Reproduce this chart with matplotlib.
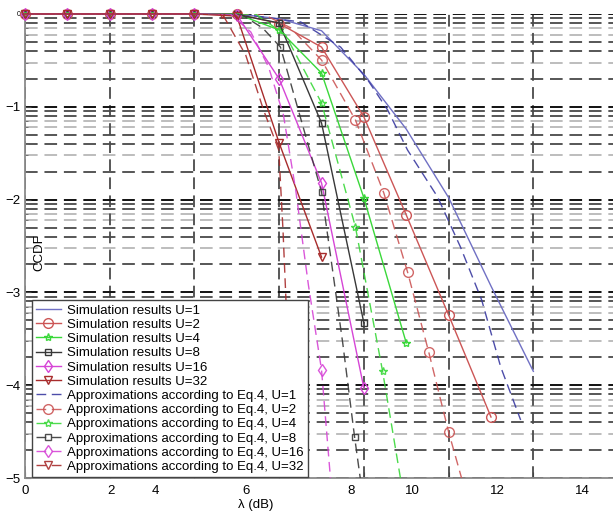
import numpy as np
import matplotlib
matplotlib.use('Agg')
import matplotlib.pyplot as plt
from matplotlib.ticker import LogLocator, FixedLocator, NullFormatter, FixedFormatter

plt.rcParams['font.family'] = ['Liberation Sans', 'DejaVu Sans']

# ---------------- data ----------------
U_values = [1, 2, 4, 8, 16, 32]

# simulation results, sampled at integer dB
sim_x_u1 = [0, 1, 2, 3, 4, 5, 6, 7, 8, 9, 10, 11, 12]
sim_u1 = [1, 1, 1, 1, 1, 1, 0.89, 0.66, 0.224, 0.0575, 0.0105, 0.00117, 0.000141]
sim_x_u2 = [0, 1, 2, 3, 4, 5, 6, 7, 8, 9, 10, 11]
sim_u2 = [1, 1, 1, 1, 1, 1, 0.79, 0.44, 0.0776, 0.00682, 0.00057, 4.54e-5]
sim_x_u4 = [0, 1, 2, 3, 4, 5, 6, 7, 8, 9]
sim_u4 = [1, 1, 1, 1, 1, 1, 0.673, 0.231, 0.0104, 2.85e-4]
sim_x_u8 = [0, 1, 2, 3, 4, 5, 6, 7, 8]
sim_u8 = [1, 1, 1, 1, 1, 0.99, 0.80, 0.0668, 4.68e-4]
sim_x_u16 = [0, 1, 2, 3, 4, 5, 6, 7, 8]
sim_u16 = [1, 1, 1, 1, 1, 0.98, 0.20, 0.0151, 9.3e-5]
sim_x_u32 = [0, 1, 2, 3, 4, 5, 6, 7]
sim_u32 = [1, 1, 1, 1, 1, 0.95, 0.0407, 0.0024]

# approximations according to Eq.4 (traced points)
apx_x_u1 = [0, 5.09, 6.51, 7.45, 8.09, 8.56, 9.03, 9.74, 10.28, 10.78, 11.23, 11.70]
apx_u1 = [1, 1, 0.82, 0.44, 0.195, 0.0925, 0.0342, 0.01067, 0.00308, 0.000828, 0.000157, 4.22e-5]
apx_x_u2 = [0, 5.61, 6.27, 7.0, 7.80, 8.47, 9.03, 9.53, 10.0, 10.33]
apx_u2 = [1, 1, 0.71, 0.319, 0.0721, 0.01178, 0.00166, 2.28e-4, 3.13e-5, 9.1e-6]
apx_x_u4 = [0, 5.44, 6.15, 7.0, 7.80, 8.44, 8.87]
apx_u4 = [1, 1, 0.594, 0.11, 0.00507, 1.42e-4, 9.5e-6]
apx_x_u8 = [0, 5.09, 5.61, 6.03, 7.0, 7.26, 7.5, 7.78, 7.92]
apx_u8 = [1, 1, 0.706, 0.44, 0.0121, 0.00174, 2.85e-4, 2.77e-5, 9.5e-6]
apx_x_u16 = [0, 4.85, 5.33, 5.75, 6.1, 6.39, 6.69, 7.0, 7.21]
apx_u16 = [1, 1, 0.64, 0.268, 0.0817, 0.01268, 0.0012, 1.46e-4, 1.0e-5]
apx_x_u32 = [0, 4.66, 5.21, 5.63, 5.99, 6.09, 6.18, 6.32, 6.51]
apx_u32 = [1, 1, 0.361, 0.0925, 0.0342, 0.0047, 5.05e-4, 6.93e-5, 1.0e-5]

# indices of traced points that carry a marker on the approximation curves
apx_marks_u1 = []
apx_marks_u2 = [3, 4, 5, 6, 7, 8]
apx_marks_u4 = [3, 4, 5]
apx_marks_u8 = [3, 4, 7]
apx_marks_u16 = [7]
apx_marks_u32 = [1]

x_tick_labels = ['0', '2', '4', '6', '8', '10', '12', '14']
x_tick_label_pos = [0.01, 2.02, 3.08, 5.21, 7.69, 9.15, 11.16, 13.16]
x_grid = [0, 2, 4, 6, 8, 10, 12]
y_tick_labels = ['\u22125', '\u22124', '\u22123', '\u22122', '\u22121', '0']

# ---------------- styling ----------------
sim_colors = ['#7070c4', '#cc5656', '#3ad83a', '#383838', '#d645d6', '#a82c2c']
apx_colors = ['#3a3aa0', '#cc5656', '#3ad83a', '#383838', '#d645d6', '#a82c2c']
markers = [None, 'o', '*', 's', 'd', 'v']
msizes = [0, 7, 6, 5, 6.5, 6]

fig = plt.figure(figsize=(6.13, 5.14), dpi=100)
ax = fig.add_axes([25 / 613, 36 / 514, 588 / 613, 464 / 514])
ax.set_yscale('log')
ax.set_xlim(0, 13.88)
ax.set_ylim(1e-5, 1)

# ticks
ax.yaxis.set_major_locator(FixedLocator([1e-5, 1e-4, 1e-3, 1e-2, 1e-1, 1]))
ax.yaxis.set_major_formatter(FixedFormatter(y_tick_labels))
ax.yaxis.set_minor_locator(LogLocator(base=10, subs=np.arange(2, 10)))
ax.yaxis.set_minor_formatter(NullFormatter())
ax.set_xticks(x_grid)
ax.set_xticklabels([''] * len(x_grid))
ax.set_xticks(x_tick_label_pos, minor=True)
ax.set_xticklabels(x_tick_labels, minor=True)
ax.tick_params(axis='x', which='major', direction='in', length=4, color='#444444')
ax.tick_params(axis='x', which='minor', length=0, pad=5, labelsize=9.5)
ax.tick_params(axis='y', which='major', direction='in', length=4, pad=3, labelsize=9.5, color='#444444')
ax.tick_params(axis='y', which='minor', direction='in', length=2.5, color='#666666')
for lab in ax.get_yticklabels():
    if lab.get_text() == '0':
        lab.set_fontsize(5)

for s in ['top', 'right']:
    ax.spines[s].set_visible(False)
for s in ['left', 'bottom']:
    ax.spines[s].set_color('#8a8a8a')
    ax.spines[s].set_linewidth(1.3)

# grid
dash = (0, (6.5, 3.5))
ax.yaxis.grid(True, which='major', color='#111111', linestyle=dash, linewidth=1.4, zorder=0.5)
ax.xaxis.grid(True, which='major', color='#4a4a4a', linestyle=dash, linewidth=1.3, zorder=0.5)
light = {3, 6, 7}
for v in ax.yaxis.get_minorticklocs():
    if v < 1e-5 or v > 1:
        continue
    m = int(round(v / 10 ** np.floor(np.log10(v) + 1e-9)))
    col = '#bdbdbd' if m in light else '#565656'
    ax.axhline(v, color=col, linestyle=dash, linewidth=1.4, zorder=0.4)

sim_x = [sim_x_u1, sim_x_u2, sim_x_u4, sim_x_u8, sim_x_u16, sim_x_u32]
sim_y = [sim_u1, sim_u2, sim_u4, sim_u8, sim_u16, sim_u32]
apx_x = [apx_x_u1, apx_x_u2, apx_x_u4, apx_x_u8, apx_x_u16, apx_x_u32]
apx_y = [apx_u1, apx_u2, apx_u4, apx_u8, apx_u16, apx_u32]
apx_marks = [apx_marks_u1, apx_marks_u2, apx_marks_u4, apx_marks_u8, apx_marks_u16, apx_marks_u32]

handles = []
for i, U in enumerate(U_values):
    kw = {}
    if markers[i] is not None:
        kw = dict(marker=markers[i], markersize=msizes[i], markerfacecolor='none',
                  markeredgewidth=1.0)
    h, = ax.plot(sim_x[i], sim_y[i], '-', color=sim_colors[i], linewidth=1.0,
                 label='Simulation results U=%d' % U, clip_on=False, zorder=3, **kw)
    handles.append(h)
for i, U in enumerate(U_values):
    kw = {}
    if markers[i] is not None:
        kw = dict(marker=markers[i], markersize=msizes[i], markerfacecolor='none',
                  markeredgewidth=1.0, markevery=apx_marks[i])
    h, = ax.plot(apx_x[i], apx_y[i], color=apx_colors[i], linewidth=1.0,
                 linestyle=(0, (7, 4)), alpha=0.9,
                 label='Approximations according to Eq.4, U=%d' % U, zorder=3, **kw)
    handles.append(h)

leg = ax.legend(handles=handles, loc='lower left',
                bbox_to_anchor=((32 - 25) / 588, 1 / 464), borderaxespad=0,
                fontsize=9.5, labelspacing=0.15, handlelength=1.9, handletextpad=0.45,
                borderpad=0.3, fancybox=False, framealpha=1, edgecolor='#444444')
leg.get_frame().set_linewidth(1.0)
leg.set_zorder(5)

ax.set_xlabel('\u03bb (dB)', fontsize=9.5)
ax.xaxis.set_label_coords(0.393, -0.046)
ax.set_ylabel('CCDF', fontsize=9.5)
ax.yaxis.set_label_coords(0.034, 0.485)

fig.savefig('out.png', dpi=100)
